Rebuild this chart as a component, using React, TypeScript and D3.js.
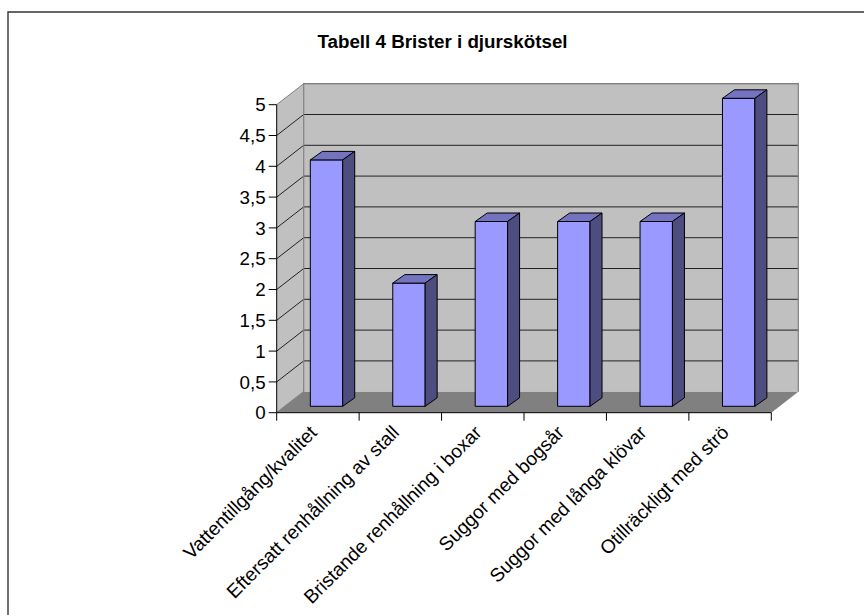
import React from "react";
import * as d3 from "d3";

const title = "Tabell 4 Brister i djurskötsel";
const categories = [
  "Vattentillgång/kvalitet",
  "Eftersatt renhållning av stall",
  "Bristande renhållning i boxar",
  "Suggor med bogsår",
  "Suggor med långa klövar",
  "Otillräckligt med strö",
];
const values = [4, 2, 3, 3, 3, 5];
const yTicks = [0, 0.5, 1, 1.5, 2, 2.5, 3, 3.5, 4, 4.5, 5];

const FONT = '"Liberation Sans", Arial, sans-serif';

export default function App() {
  const x0 = 276.7, x1 = 771.3, y0 = 412.7, y1 = 104.7;
  const dx = 27, dy = -21;
  const x = d3.scaleBand<string>().domain(categories).range([x0, x1]);
  const y = d3.scaleLinear().domain([0, 5]).range([y0, y1]);
  const fmt = (v: number) => String(v).replace(".", ",");
  const barW = 32.4, bx = 12, by = -8.5, ox = 8.6, oy = -6.4;
  const line = d3.line();
  const poly = (pts: [number, number][]) => line(pts)! + "Z";
  return (
    <svg width={864} height={615} style={{ position: "absolute", left: 0, top: 0 }} fontFamily={FONT}>
      <rect x={0} y={0} width={864} height={615} fill="#fff" />
      <path d="M8,615V12H864" fill="none" stroke="#333" strokeWidth={1.4} />
      <text x={442.5} y={47.5} textAnchor="middle" fontSize={18.8} fontWeight="bold" fill="#000">{title}</text>

      {/* walls */}
      <path d={poly([[x0, y1], [x0 + dx, y1 + dy], [x0 + dx, y0 + dy], [x0, y0]])} fill="#c0c0c0" />
      <rect x={x0 + dx} y={y1 + dy} width={x1 - x0} height={y0 - y1} fill="#c0c0c0" />
      <path d={poly([[x0, y0], [x0 + dx, y0 + dy], [x1 + dx, y0 + dy], [x1, y0]])} fill="#808080" />
      {yTicks.slice(1).map((t) => (
        <path key={t} d={`M${x0},${y(t)}L${x0 + dx},${y(t) + dy}H${x1 + dx}`} fill="none" stroke={t === 5 ? "#808080" : "#222"} strokeWidth={1} />
      ))}
      <path d={`M${x0},${y0}L${x0 + dx},${y0 + dy}V${y1 + dy}H${x1 + dx}V${y0 + dy}`} fill="none" stroke="#808080" strokeWidth={1.2} />

      {/* bars */}
      {categories.map((c, i) => {
        const left = x(c)! + (x.bandwidth() - barW) / 2 + ox;
        const bottom = y0 + oy;
        const top = y(values[i]) + oy;
        return (
          <g key={c} stroke="#000" strokeWidth={1} strokeLinejoin="round">
            <rect x={left} y={top} width={barW} height={bottom - top} fill="#9999ff" />
            <path d={poly([[left, top], [left + bx, top + by], [left + barW + bx, top + by], [left + barW, top]])} fill="#7373bf" />
            <path d={poly([[left + barW, top], [left + barW + bx, top + by], [left + barW + bx, bottom + by], [left + barW, bottom]])} fill="#4d4d80" />
          </g>
        );
      })}

      {/* axes */}
      <path d={`M${x0},${y1}V${y0}H${x1}`} fill="none" stroke="#000" strokeWidth={1} />
      {yTicks.map((t) => (
        <g key={t}>
          <line x1={x0 - 8} x2={x0} y1={y(t)} y2={y(t)} stroke="#000" />
          <text x={x0 - 11} y={y(t) + 6.7} textAnchor="end" fontSize={18.8} fill="#000">{fmt(t)}</text>
        </g>
      ))}
      {[...categories.map((c) => x(c)!), x1].map((p, i) => (
        <line key={i} x1={p} x2={p} y1={y0} y2={y0 + 8} stroke="#000" />
      ))}
      {categories.map((c) => {
        const cx = x(c)! + x.bandwidth() / 2;
        return (
          <text key={c} transform={`translate(${cx},${y0 + 21}) rotate(-45)`} textAnchor="end" fontSize={19.1} fill="#000">{c}</text>
        );
      })}
    </svg>
  );
}
